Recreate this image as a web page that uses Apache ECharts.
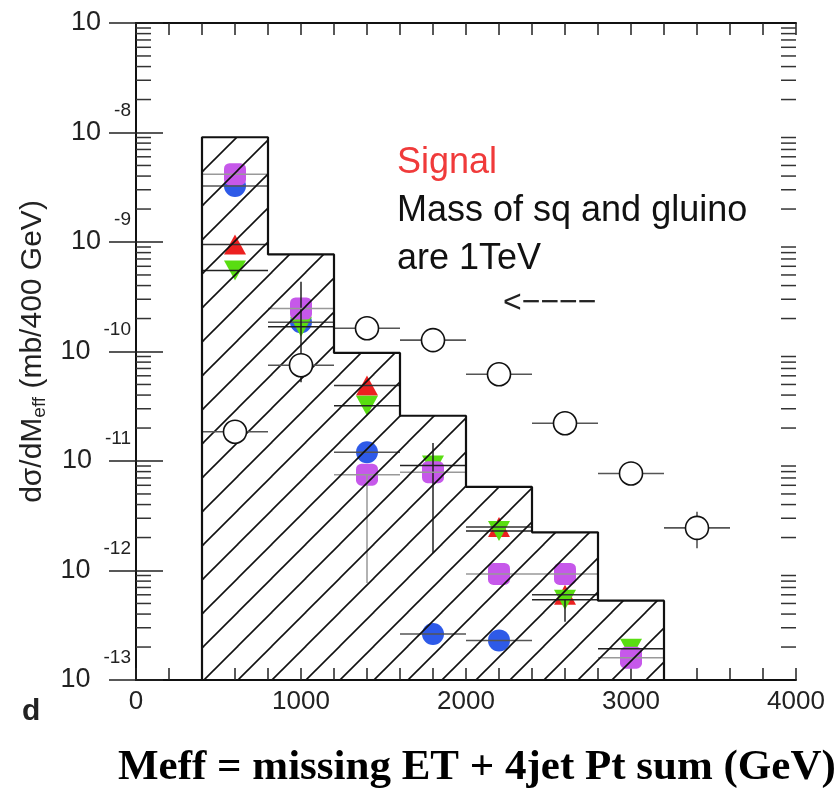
<!DOCTYPE html>
<html><head><meta charset="utf-8">
<script src="https://cdn.jsdelivr.net/npm/echarts@6/dist/echarts.min.js"></script>
<style>html,body{margin:0;padding:0;background:#fff}#c{width:839px;height:790px}</style>
</head><body><div id="c"></div>
<script>
// ---------- data ----------
const yMin = 1e-13, yMax = 1e-7;
const binEdges = [400, 800, 1200, 1600, 2000, 2400, 2800, 3200, 3600];
const histValues = [9.05e-9, 7.7e-10, 9.7e-11, 2.59e-11, 5.8e-12, 2.23e-12, 5.3e-13, 0];

const bgX = [600, 1000, 1400, 1800, 2200, 2600, 3000, 3400];
const bgY = [1.85e-11, 7.5e-11, 1.63e-10, 1.27e-10, 6.2e-11, 2.21e-11, 7.7e-12, 2.45e-12];
const bgErrLo = [null, null, null, null, null, null, null, 1.6e-12];
const bgErrHi = [null, null, null, null, null, null, null, 3.44e-12];

const blueX = [600, 1000, 1400, 1800, 2200];
const blueY = [3.24e-9, 1.85e-10, 1.2e-11, 2.63e-13, 2.3e-13];

const redX = [600, 1400, 2200, 2600];
const redY = [9.5e-10, 4.9e-11, 2.5e-12, 6.0e-13];

const greenX = [600, 1000, 1400, 1800, 2200, 2600, 3000];
const greenY = [5.5e-10, 1.68e-10, 3.2e-11, 9.1e-12, 2.3e-12, 5.4e-13, 1.93e-13];
const greenErrLo = [null, 5.25e-11, null, 1.44e-12, null, 3.4e-13, null];
const greenErrHi = [null, 4.33e-10, null, 1.46e-11, null, 5.4e-13, null];

const purpleX = [600, 1000, 1400, 1800, 2200, 2600, 3000];
const purpleY = [4.16e-9, 2.47e-10, 7.5e-12, 7.9e-12, 9.3e-13, 9.3e-13, 1.6e-13];
const purpleErrLo = [null, null, 7.7e-13, null, null, null, null];
const purpleErrHi = [null, null, 7.5e-12, null, null, null, null];

const halfBin = 200;

// ---------- helpers ----------
const pts = (xs, ys) => xs.map((x, i) => [x, ys[i]]);
const errData = (xs, ys, lo, hi) => xs.map((x, i) => [x, ys[i], (lo && lo[i]) || 0, (hi && hi[i]) || 0]);

function errRender(color, width) {
  return function (params, api) {
    const x = api.value(0), y = api.value(1), lo = api.value(2), hi = api.value(3);
    const a = api.coord([x - halfBin, y]), b = api.coord([x + halfBin, y]);
    const children = [{ type: 'line', shape: { x1: a[0], y1: a[1], x2: b[0], y2: b[1] }, style: { stroke: color, lineWidth: width } }];
    if (lo > 0 && hi > 0) {
      const p = api.coord([x, lo]), q = api.coord([x, hi]);
      children.push({ type: 'line', shape: { x1: p[0], y1: p[1], x2: q[0], y2: q[1] }, style: { stroke: color, lineWidth: width } });
    }
    return { type: 'group', children };
  };
}

// hatch pattern
const S = 34;
const pc = document.createElement('canvas');
pc.width = S; pc.height = S;
const g = pc.getContext('2d');
g.strokeStyle = '#111'; g.lineWidth = 1.6;
[0, S, 2 * S].forEach(c => { g.beginPath(); g.moveTo(-5, c + 5); g.lineTo(c + 5, -5); g.stroke(); });

const histData = histValues.map((v, i) => [binEdges[i], v, binEdges[i + 1]]);
const outline = [[binEdges[0], yMin]];
histValues.forEach((v, i) => {
  const val = v > 0 ? v : yMin;
  outline.push([binEdges[i], val]);
  outline.push([binEdges[i + 1], val]);
});
outline.push([binEdges[binEdges.length - 1], yMin]);

// minor ticks for log axis (2..9 per decade)
const minorTicks = [];
for (let e = -13; e < -7; e++) for (let k = 2; k <= 9; k++) minorTicks.push([0, k * Math.pow(10, e)]);

const chart = echarts.init(document.getElementById('c'), null, { renderer: 'canvas' });
const axisLineStyle = { color: '#111', width: 2 };

chart.setOption({
  animation: false,
  backgroundColor: '#fff',
  grid: { left: 136, right: 43, top: 23, bottom: 110, containLabel: false, outerBoundsMode: 'none' },
  xAxis: [{
    type: 'value', min: 0, max: 4000, interval: 1000, position: 'bottom',
    axisLine: { lineStyle: axisLineStyle },
    axisTick: { inside: true, length: 12, lineStyle: { color: '#222', width: 1.5 } },
    minorTick: { show: true, splitNumber: 5, length: 12, lineStyle: { color: '#222', width: 1.5 } },
    splitLine: { show: false },
    axisLabel: { fontSize: 26, fontFamily: 'Liberation Sans', color: '#222', margin: 9, formatter: v => String(v) }
  }, {
    type: 'value', min: 0, max: 4000, interval: 1000, position: 'top',
    axisLine: { lineStyle: axisLineStyle },
    axisTick: { inside: true, length: 12, lineStyle: { color: '#222', width: 1.5 } },
    minorTick: { show: true, splitNumber: 5, length: 12, lineStyle: { color: '#222', width: 1.5 } },
    splitLine: { show: false },
    axisLabel: { show: false }
  }],
  yAxis: [{
    type: 'log', logBase: 10, min: yMin, max: yMax, splitNumber: 6, position: 'left',
    axisLine: { lineStyle: axisLineStyle },
    axisTick: { inside: true, length: 27, lineStyle: { color: '#222', width: 1.5 } },
    splitLine: { show: false },
    name: '{m|dσ/dM}{s|eff}{m| (mb/400 GeV)}',
    nameLocation: 'middle', nameRotate: 90, nameGap: 86,
    nameTextStyle: {
      rich: {
        m: { fontSize: 30, fontFamily: 'Liberation Sans', color: '#222', lineHeight: 32 },
        s: { fontSize: 19, fontFamily: 'Liberation Sans', color: '#222', lineHeight: 20, padding: [14, 0, 0, 0] }
      }
    },
    axisLabel: {
      margin: 5,
      formatter: v => {
        const e = Math.round(Math.log10(v));
        return e === -7 ? '{b|10}{h|-8}' : '{b|10}{e|' + e + '}';
      },
      rich: {
        b: { fontSize: 27, fontFamily: 'Liberation Sans', color: '#222', lineHeight: 28, padding: [0, 13, 0, 0], verticalAlign: 'middle' },
        e: { fontSize: 19, fontFamily: 'Liberation Sans', color: '#222', lineHeight: 20, padding: [0, 0, 44, 0] },
        h: { fontSize: 19, fontFamily: 'Liberation Sans', color: 'rgba(0,0,0,0)', lineHeight: 20, padding: [0, 0, 44, 0] }
      }
    }
  }, {
    type: 'log', logBase: 10, min: yMin, max: yMax, splitNumber: 6, position: 'right',
    axisLine: { lineStyle: axisLineStyle },
    axisTick: { inside: true, length: 27, lineStyle: { color: '#222', width: 1.5 } },
    splitLine: { show: false },
    axisLabel: { show: false }
  }],
  series: [
    { // minor log ticks on both sides
      type: 'custom', z: 1, silent: true, data: minorTicks, encode: { x: 0, y: 1 },
      renderItem: (params, api) => {
        const v = api.value(1);
        const l = api.coord([0, v]), r = api.coord([4000, v]);
        return { type: 'group', children: [
          { type: 'line', shape: { x1: l[0], y1: l[1], x2: l[0] + 15, y2: l[1] }, style: { stroke: '#333', lineWidth: 1.5 } },
          { type: 'line', shape: { x1: r[0] - 15, y1: r[1], x2: r[0], y2: r[1] }, style: { stroke: '#333', lineWidth: 1.5 } }
        ] };
      }
    },
    { type: 'scatter', name: 'blue', z: 2, data: pts(blueX, blueY), symbol: 'circle', symbolSize: 22, itemStyle: { color: '#2e5ae8', opacity: 1 } },
    { type: 'scatter', name: 'red', z: 2, data: pts(redX, redY), symbol: 'triangle', symbolSize: [22, 20], itemStyle: { color: '#ec2020', opacity: 1 } },
    { type: 'scatter', name: 'green', z: 2, data: pts(greenX, greenY), symbol: 'triangle', symbolRotate: 180, symbolSize: [22, 20], itemStyle: { color: '#59dd11', opacity: 1 } },
    { type: 'scatter', name: 'purple', z: 2, data: pts(purpleX, purpleY), symbol: 'roundRect', symbolSize: 22, itemStyle: { color: '#c658ea', opacity: 1 } },
    { type: 'custom', z: 3, silent: true, data: errData(blueX, blueY), encode: { x: 0, y: 1 }, renderItem: errRender('#555', 1.5) },
    { type: 'custom', z: 3, silent: true, data: errData(redX, redY), encode: { x: 0, y: 1 }, renderItem: errRender('#333', 1.5) },
    { type: 'custom', z: 3, silent: true, data: errData(greenX, greenY, greenErrLo, greenErrHi), encode: { x: 0, y: 1 }, renderItem: errRender('#222', 1.5) },
    { type: 'custom', z: 3, silent: true, data: errData(purpleX, purpleY, purpleErrLo, purpleErrHi), encode: { x: 0, y: 1 }, renderItem: errRender('#999', 1.5) },
    { // hatched histogram
      type: 'custom', z: 4, silent: true, data: histData, encode: { x: [0, 2], y: 1 },
      renderItem: (params, api) => {
        const lo = api.value(0), v = api.value(1), hi = api.value(2);
        if (!(v > 0)) return null;
        const p1 = api.coord([lo, v]), p2 = api.coord([hi, yMin]);
        return { type: 'rect', shape: { x: p1[0], y: p1[1], width: p2[0] - p1[0], height: p2[1] - p1[1] },
                 style: { fill: { image: pc, repeat: 'repeat' }, stroke: null } };
      }
    },
    { type: 'line', z: 5, silent: true, data: outline, symbol: 'none', lineStyle: { color: '#111', width: 2.2 } },
    { type: 'custom', z: 5, silent: true, data: errData(bgX, bgY, bgErrLo, bgErrHi), encode: { x: 0, y: 1 }, renderItem: errRender('#555', 1.6) },
    { type: 'scatter', name: 'background', z: 6, data: pts(bgX, bgY), symbol: 'circle', symbolSize: 23,
      itemStyle: { color: '#fff', borderColor: '#111', borderWidth: 1.6, opacity: 1 } }
  ],
  graphic: [
    { type: 'text', left: 397, top: 145, style: { text: 'Signal', fontSize: 36, fontFamily: 'Liberation Sans', fill: '#f03a3a' } },
    { type: 'text', left: 397, top: 193, style: { text: 'Mass of sq and gluino', fontSize: 36, fontFamily: 'Liberation Sans', fill: '#111' } },
    { type: 'text', left: 397, top: 241, style: { text: 'are 1TeV', fontSize: 36, fontFamily: 'Liberation Sans', fill: '#111' } },
    { type: 'text', left: 503, top: 287, style: { text: '<\u2212\u2212\u2212\u2212', fontSize: 32, fontFamily: 'Liberation Sans', fill: '#222' } },
    { type: 'text', left: 22, top: 697, style: { text: 'd', fontSize: 30, fontWeight: 'bold', fontFamily: 'Liberation Sans', fill: '#222' } },
    { type: 'rect', left: 10, top: 721, shape: { width: 50, height: 22 }, style: { fill: '#fff' } },
    { type: 'text', left: 118, top: 746, style: { text: 'Meff = missing ET + 4jet Pt sum (GeV)', fontSize: 43, fontWeight: 'bold', fontFamily: 'Liberation Serif', fill: '#000' } }
  ]
});
</script></body></html>
